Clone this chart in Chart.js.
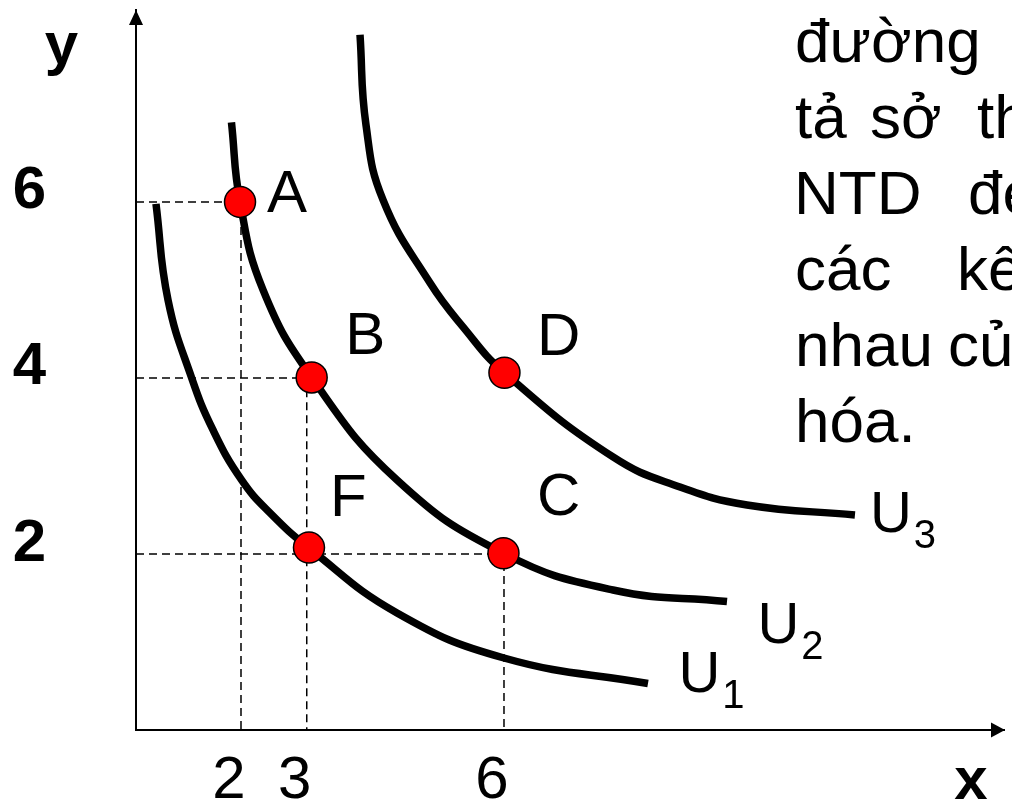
<!DOCTYPE html>
<html>
<head>
<meta charset="utf-8">
<script src="https://cdn.jsdelivr.net/npm/chart.js@4.4.1/dist/chart.umd.min.js"></script>
<style>
html,body{margin:0;padding:0;background:#fff;overflow:hidden}
canvas{display:block}
</style>
</head>
<body>
<canvas id="c" width="1012" height="805"></canvas>
<script>
// ---- data ----
const X_MIN = 0.403, X_MAX = 13.605, Y_MIN = 0, Y_MAX = 8.18;
const xTickValues = [2, 3, 6];
const xTickLabels = ['2', '3', '6'];
const yTickValues = [2, 4, 6];
const yTickLabels = ['2', '4', '6'];

const pointNames = ['A', 'B', 'C', 'D', 'F'];
const pointX = [1.985, 3.075, 5.992, 6.007, 3.034];
const pointY = [6.0, 4.006, 2.008, 4.059, 2.072];

const guideX = [2, 3, 6];
const guideY = [6, 4, 2];

const curveNames = ['1', '2', '3'];
const u1X = [0.707, 0.890, 1.250, 1.574, 2.008, 2.441, 3.034, 4.373, 6.0, 8.19];
const u1Y = [5.977, 4.886, 4.0, 3.409, 2.841, 2.466, 2.068, 1.330, 0.818, 0.528];
const u2X = [1.855, 1.985, 2.335, 3.075, 4.373, 5.992, 7.658, 9.392];
const u2Y = [6.903, 6.0, 5.0, 4.006, 2.841, 2.008, 1.591, 1.460];
const u3X = [3.810, 3.901, 4.160, 4.874, 5.376, 6.007, 7.658, 8.677, 9.696, 11.338];
const u3Y = [7.898, 6.875, 6.023, 5.080, 4.580, 4.059, 3.102, 2.761, 2.557, 2.443];

const textLines = [
  ['đường'],
  ['tả', 'sở', 'thích'],
  ['NTD', 'đe'],
  ['các', 'kết'],
  ['nhau', 'của'],
  ['hóa.']
];

// ---- layout / style (not data) ----
const FONT = '"Liberation Sans", Arial, sans-serif';
const pointLabelOffset = {A: [27, 10], B: [33.5, -23], C: [33.5, -38], D: [32.5, -18], F: [21, -32]};
const curveLabelOffset = [[30.5, 8.5], [30.4, 41.5], [15, 17]];
const textWordX = [[795], [795, 870, 977], [794, 968], [795, 957], [795, 948], [795]];
const textBaseline0 = 62, textLineStep = 76;

const pts = (xs, ys) => xs.map((v, i) => ({x: v, y: ys[i]}));
const curves = [pts(u1X, u1Y), pts(u2X, u2Y), pts(u3X, u3Y)];

const datasets = [];
datasets.push({
  label: 'points',
  data: pts(pointX, pointY),
  showLine: false,
  pointRadius: 15.5,
  pointHoverRadius: 15.5,
  pointBackgroundColor: '#ff0000',
  pointBorderColor: '#000',
  pointBorderWidth: 1.5,
  order: 0
});
curves.forEach((c, i) => datasets.push({
  label: 'U' + curveNames[i],
  data: c,
  showLine: true,
  borderColor: '#000',
  borderWidth: 7.5,
  pointRadius: 0,
  tension: 0.45,
  borderCapStyle: 'butt',
  order: 1
}));
guideX.forEach((gx, i) => datasets.push({
  label: 'guide' + i,
  data: [{x: X_MIN, y: guideY[i]}, {x: gx, y: guideY[i]}, {x: gx, y: 0}],
  showLine: true,
  borderColor: '#000',
  borderWidth: 1.5,
  borderDash: [8, 5],
  pointRadius: 0,
  tension: 0,
  order: 2
}));

const annot = {
  id: 'annot',
  afterDraw(chart) {
    const {ctx, chartArea: a, scales: {x, y}} = chart;
    ctx.save();
    ctx.fillStyle = '#000';
    // axis arrows
    ctx.beginPath();
    ctx.moveTo(a.left, a.top);
    ctx.lineTo(a.left - 7, a.top + 15);
    ctx.lineTo(a.left + 7, a.top + 15);
    ctx.closePath(); ctx.fill();
    ctx.beginPath();
    ctx.moveTo(a.right + 1, a.bottom);
    ctx.lineTo(a.right - 13, a.bottom - 7.5);
    ctx.lineTo(a.right - 13, a.bottom + 7.5);
    ctx.closePath(); ctx.fill();

    ctx.textBaseline = 'alphabetic';
    // axis titles
    ctx.textAlign = 'center';
    ctx.font = 'bold 60px ' + FONT;
    ctx.fillText('y', 61.5, 64);
    ctx.fillText('x', 971, 799);

    // point labels
    ctx.textAlign = 'left';
    ctx.font = '60px ' + FONT;
    pointNames.forEach((n, i) => {
      const o = pointLabelOffset[n];
      ctx.fillText(n, x.getPixelForValue(pointX[i]) + o[0], y.getPixelForValue(pointY[i]) + o[1]);
    });

    // curve labels U1 U2 U3
    curves.forEach((c, i) => {
      const end = c[c.length - 1];
      const px = x.getPixelForValue(end.x) + curveLabelOffset[i][0];
      const py = y.getPixelForValue(end.y) + curveLabelOffset[i][1];
      ctx.font = '58px ' + FONT;
      ctx.fillText('U', px, py);
      const w = ctx.measureText('U').width;
      ctx.font = '40px ' + FONT;
      ctx.fillText(curveNames[i], px + w + 2, py + 16);
    });

    // paragraph text (cut by the canvas edge)
    ctx.font = '62px ' + FONT;
    textLines.forEach((words, li) => {
      words.forEach((wd, wi) => {
        ctx.fillText(wd, textWordX[li][wi], textBaseline0 + li * textLineStep);
      });
    });
    ctx.restore();
  }
};

new Chart(document.getElementById('c'), {
  type: 'scatter',
  data: {datasets},
  options: {
    responsive: false,
    animation: false,
    devicePixelRatio: 1,
    layout: {autoPadding: false, padding: {top: 10, right: 8, left: 0, bottom: 0}},
    plugins: {legend: {display: false}, tooltip: {enabled: false}},
    events: [],
    scales: {
      x: {
        type: 'linear', min: X_MIN, max: X_MAX,
        grid: {display: false, drawTicks: false},
        border: {display: true, color: '#000', width: 2},
        afterBuildTicks: s => { s.ticks = xTickValues.map(v => ({value: v})); },
        ticks: {
          color: '#000', font: {family: FONT, size: 60}, padding: 15, labelOffset: -12,
          maxRotation: 0, autoSkip: false,
          callback: v => xTickLabels[xTickValues.indexOf(v)]
        },
        afterFit: s => { s.height = 75; s.paddingLeft = 0; s.paddingRight = 0; }
      },
      y: {
        type: 'linear', min: Y_MIN, max: Y_MAX,
        grid: {display: false, drawTicks: false},
        border: {display: true, color: '#000', width: 2},
        afterBuildTicks: s => { s.ticks = yTickValues.map(v => ({value: v})); },
        ticks: {
          color: '#000', font: {family: FONT, size: 60, weight: 'bold'}, padding: 90, labelOffset: -10,
          autoSkip: false,
          callback: v => yTickLabels[yTickValues.indexOf(v)]
        },
        afterFit: s => { s.width = 136; s.paddingTop = 0; s.paddingBottom = 0; }
      }
    }
  },
  plugins: [annot]
});
</script>
</body>
</html>
